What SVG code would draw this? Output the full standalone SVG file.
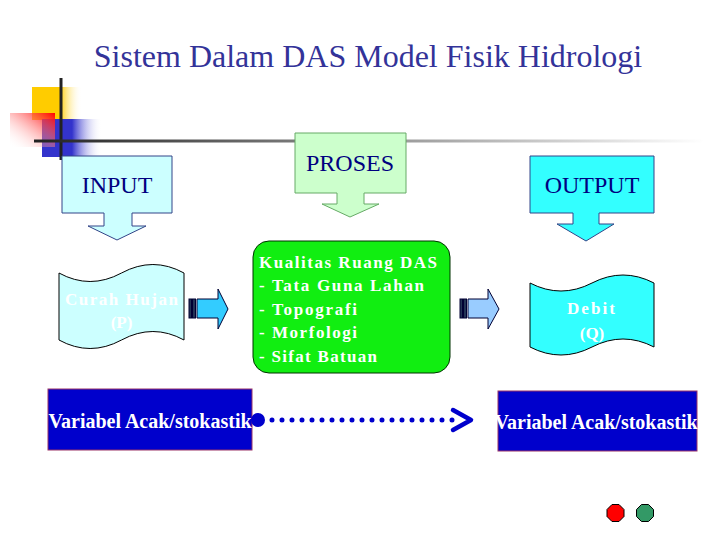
<svg xmlns="http://www.w3.org/2000/svg" width="720" height="540" viewBox="0 0 720 540">
<defs>
<linearGradient id="gY" x1="0" y1="0" x2="1" y2="0"><stop offset="0" stop-color="#FFCC00"/><stop offset="0.55" stop-color="#FFCC00"/><stop offset="1" stop-color="#FFFFFF" stop-opacity="0"/></linearGradient>
<linearGradient id="gB" x1="0" y1="0" x2="1" y2="0"><stop offset="0" stop-color="#3333CC"/><stop offset="0.5" stop-color="#3333CC"/><stop offset="1" stop-color="#FFFFFF" stop-opacity="0"/></linearGradient>
<linearGradient id="gR" x1="1" y1="0" x2="0" y2="1"><stop offset="0" stop-color="#FF0000"/><stop offset="1" stop-color="#FFFFFF" stop-opacity="0"/></linearGradient>
<linearGradient id="gL" x1="0" y1="0" x2="1" y2="0"><stop offset="0" stop-color="#222222"/><stop offset="1" stop-color="#FFFFFF"/></linearGradient>
</defs>
<style>
.cap{font-size:24px;fill:#000080;text-anchor:middle}
.wb{font-size:17px;font-weight:bold;fill:#FFFFFF}
.var{font-size:20px;font-weight:bold;fill:#FFFFFF;text-anchor:middle}
.vbox{fill:#0000CC;stroke:#993366;stroke-width:1}
</style>
<rect width="720" height="540" fill="#FFFFFF"/>
<g id="decor">
<rect x="32" y="87" width="50" height="33" fill="url(#gY)"/>
<rect x="42" y="119" width="60" height="38" fill="url(#gB)"/>
<rect x="10" y="113" width="45" height="34" fill="url(#gR)"/>
<line x1="61" y1="78" x2="61" y2="160" stroke="#222222" stroke-width="3"/>
<rect x="34" y="139.5" width="670" height="3" fill="url(#gL)"/>
</g>
<text x="368" y="67" font-family="Liberation Serif" font-size="32" fill="#333399" text-anchor="middle">Sistem Dalam DAS Model Fisik Hidrologi</text>
<g id="input">
<path d="M62,156 H172 V213 H132 V226 H146 L117,240 L88,226 H104 V213 H62 Z" fill="#CCFFFF" stroke="#334488" stroke-width="1"/>
<text class="cap" font-family="Liberation Serif" x="117" y="193">INPUT</text>
</g>
<g id="proses">
<path d="M295,133 H406 V193 H364 V204 H379 L350,217 L322,204 H337 V193 H295 Z" fill="#CCFFCC" stroke="#66AA66" stroke-width="1"/>
<text class="cap" font-family="Liberation Serif" x="350" y="171">PROSES</text>
</g>
<g id="output">
<path d="M530,156 H654 V213 H599 V224 H614 L586,241 L557,224 H573 V213 H530 Z" fill="#33FFFF" stroke="#334488" stroke-width="1"/>
<text class="cap" font-family="Liberation Serif" x="592" y="193">OUTPUT</text>
</g>
<g id="curah">
<path d="M59,273 Q90,290 121.5,273 T184,273 L184,340 Q153,323 121.5,340 T59,340 Z" fill="#CCFFFF" stroke="#000000" stroke-width="1"/>
<text class="wb" font-family="Liberation Serif" x="121.5" y="305" text-anchor="middle" textLength="113" lengthAdjust="spacing">Curah Hujan</text>
<text class="wb" font-family="Liberation Serif" x="121.5" y="328" text-anchor="middle">(P)</text>
</g>
<g id="kualitas">
<rect x="253" y="241" width="197" height="132" rx="16" fill="#11EE11" stroke="#003300" stroke-width="1"/>
<text class="wb" font-family="Liberation Serif" x="259" y="268" textLength="178" lengthAdjust="spacing">Kualitas Ruang DAS</text>
<text class="wb" font-family="Liberation Serif" x="259" y="291" textLength="165" lengthAdjust="spacing">- Tata Guna Lahan</text>
<text class="wb" font-family="Liberation Serif" x="259" y="315" textLength="98" lengthAdjust="spacing">- Topografi</text>
<text class="wb" font-family="Liberation Serif" x="259" y="338" textLength="98" lengthAdjust="spacing">- Morfologi</text>
<text class="wb" font-family="Liberation Serif" x="259" y="362" textLength="118" lengthAdjust="spacing">- Sifat Batuan</text>
</g>
<g id="debit">
<path d="M530,283 Q561,299 592,283 T654,283 L654,347 Q623,331 592,347 T530,347 Z" fill="#33FFFF" stroke="#000000" stroke-width="1"/>
<text class="wb" font-family="Liberation Serif" x="591" y="314" text-anchor="middle" textLength="48" lengthAdjust="spacing">Debit</text>
<text class="wb" font-family="Liberation Serif" x="592" y="339" text-anchor="middle">(Q)</text>
</g>
<g id="var1">
<rect class="vbox" x="48" y="389" width="204" height="61"/>
<text class="var" font-family="Liberation Serif" x="150" y="428">Variabel Acak/stokastik</text>
</g>
<g id="var2">
<rect class="vbox" x="498" y="391" width="199" height="60"/>
<text class="var" font-family="Liberation Serif" x="596" y="429">Variabel Acak/stokastik</text>
</g>
<g id="connectors">
<g stroke="#000033" stroke-width="1">
<rect x="189" y="299" width="2.5" height="19" fill="#223355"/>
<rect x="192.5" y="299" width="3" height="19" fill="#223355"/>
<path d="M197,299 H218 V289 L228,309 L218,329 V318 H197 Z" fill="#33CCFF"/>
</g>
<g stroke="#000033" stroke-width="1">
<rect x="460" y="299" width="2.5" height="19" fill="#223355"/>
<rect x="463.5" y="299" width="3" height="19" fill="#223355"/>
<path d="M468,299 H488 V289 L499,309 L488,329 V318 H468 Z" fill="#99CCFF"/>
</g>
<circle cx="258" cy="420" r="7" fill="#0000CC"/>
<line x1="272" y1="420" x2="462" y2="420" stroke="#0000CC" stroke-width="5" stroke-linecap="round" stroke-dasharray="0 10"/>
<path d="M453,410 L471,420 L453,430" fill="none" stroke="#0000CC" stroke-width="4.5" stroke-linejoin="round" stroke-linecap="round"/>
</g>
<g id="nav">
<polygon points="612,504.5 619,504.5 624,509.5 624,516.5 619,521.5 612,521.5 607,516.5 607,509.5" fill="#FF0000" stroke="#000000" stroke-width="1"/>
<polygon points="641.5,504.5 648.5,504.5 653.5,509.5 653.5,516.5 648.5,521.5 641.5,521.5 636.5,516.5 636.5,509.5" fill="#339966" stroke="#000000" stroke-width="1"/>
</g>
</svg>
